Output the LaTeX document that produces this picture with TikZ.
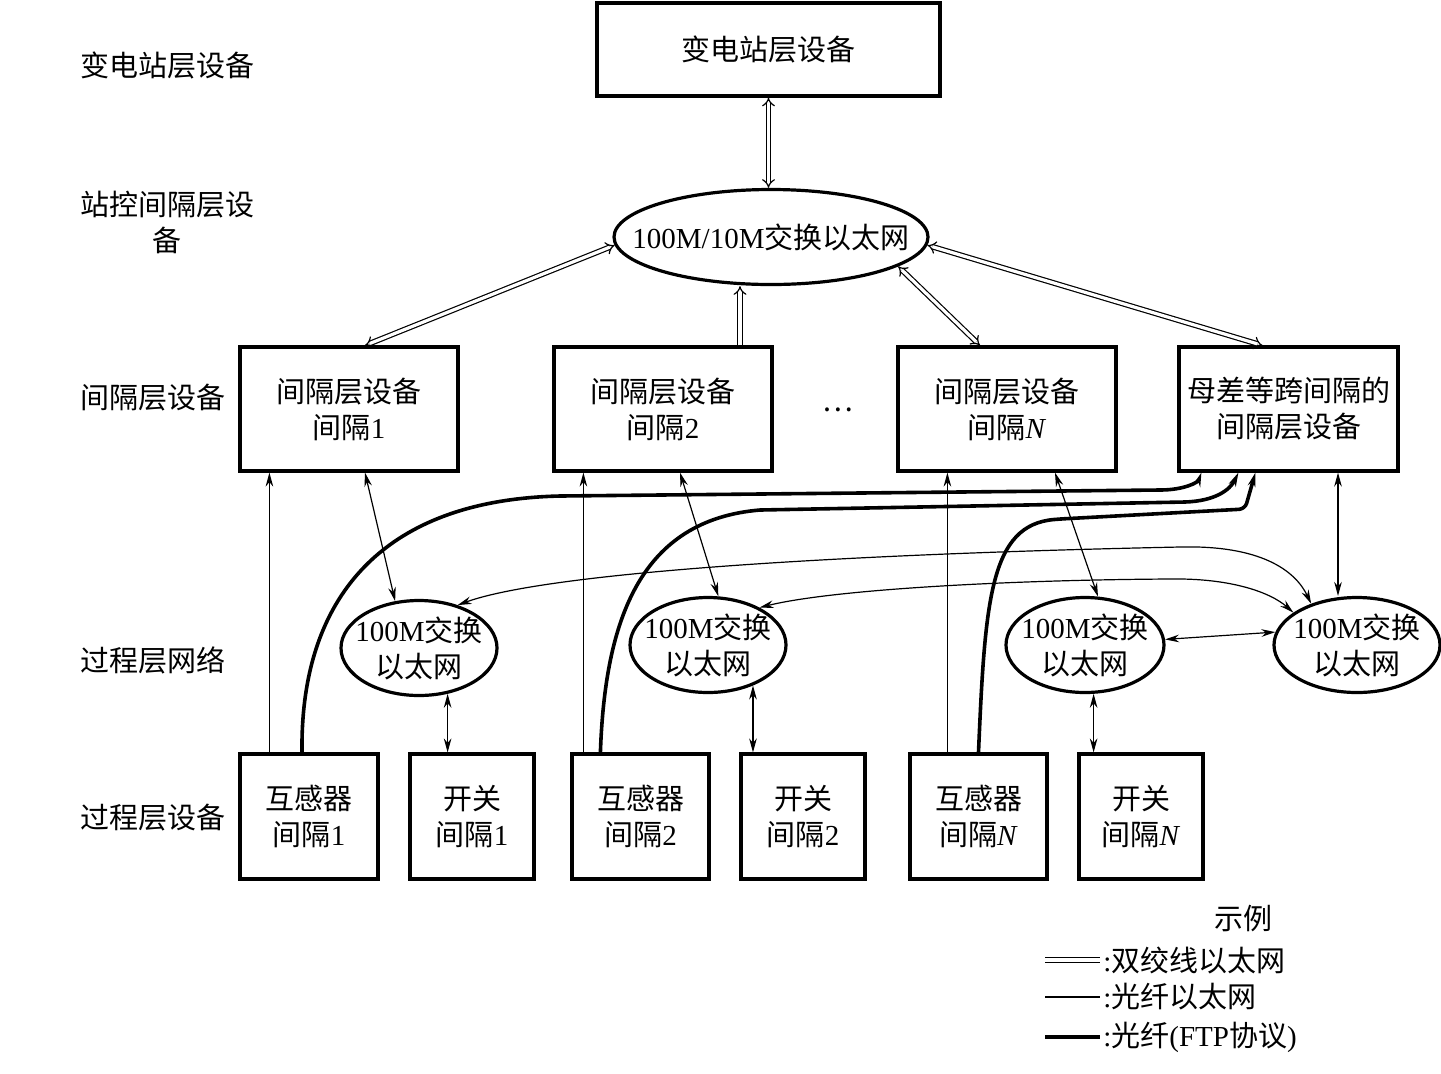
\documentclass[tikz,border=0pt]{standalone}
\usepackage{fontspec}
\setmainfont{Liberation Serif}
\newfontfamily\cjk{Noto Sans CJK SC}
\newcommand\zh[1]{{\cjk #1}}
\usetikzlibrary{shapes.geometric,arrows.meta,calc}

\tikzset{
  every node/.style={font=\fontsize{14.5pt}{18pt}\selectfont},
  box/.style={draw, line width=1.6pt, inner sep=2pt, align=center},
  swnet/.style={draw, ellipse, line width=1.6pt, minimum height=47.5pt, inner sep=0pt},
  lvl/.style={anchor=west, inner sep=0pt, align=center},
  twisted/.style={double, line width=0.6pt, double distance=1.6pt},
  fiber/.style={line width=0.6pt},
  ftp/.style={line width=1.8pt},
  >={Stealth[length=7pt,width=3.8pt]}
}

\begin{document}
\begin{tikzpicture}[x=0.5pt, y=-0.5pt]
        \useasboundingbox (0,0) rectangle (1441,1073);

        % layer names
        \node[lvl] (lv1) at (80,65) {\zh{变电站层设备}};
        \node[lvl] (lv2) at (80,222) {\zh{站控间隔层设}\\\zh{备}};
        \node[lvl] (lv3) at (80,398) {\zh{间隔层设备}};
        \node[lvl] (lv4) at (80,660) {\zh{过程层网络}};
        \node[lvl] (lv5) at (80,818) {\zh{过程层设备}};

        \node[box, minimum width=171.5pt, minimum height=46.5pt] (top) at (768.5,49.5) {\zh{变电站层设备}};
        \node[swnet, minimum width=157pt] (net) at (771,237) {};
        \node (nett) at (net) {100M/10M\zh{交换以太网}};

        \node[box, minimum width=109pt, minimum height=62pt] (bay1) at (349,409) {\zh{间隔层设备}\\\zh{间隔}1};
        \node[box, minimum width=109pt, minimum height=62pt] (bay2) at (663,409) {\zh{间隔层设备}\\\zh{间隔}2};
        \node (dots) at (838,410) {\zh{…}};
        \node[box, minimum width=109pt, minimum height=62pt] (bayN) at (1007,409) {\zh{间隔层设备}\\\zh{间隔}\textit{N}};
        \node[box, minimum width=109.5pt, minimum height=62pt] (bus) at (1288.5,409) {\zh{母差等跨间隔的}\\\zh{间隔层设备}};

        \node[swnet, minimum width=78pt] (pnet1) at (419,648) {};
        \node[swnet, minimum width=78pt] (pnet2) at (708,645) {};
        \node[swnet, minimum width=79pt] (pnetN) at (1085,645) {};
        \node[swnet, minimum width=83pt] (pnetB) at (1357,645) {};
        \node[align=center] (pnet1t) at (pnet1) {100M\zh{交换}\\\zh{以太网}};
        \node[align=center] (pnet2t) at (pnet2) {100M\zh{交换}\\\zh{以太网}};
        \node[align=center] (pnetNt) at (pnetN) {100M\zh{交换}\\\zh{以太网}};
        \node[align=center] (pnetBt) at (pnetB) {100M\zh{交换}\\\zh{以太网}};

        \node[box, minimum width=69pt, minimum height=62.5pt] (ct1) at (309,816.5) {\zh{互感器}\\\zh{间隔}1};
        \node[box, minimum width=62pt, minimum height=62.5pt] (sw1) at (472,816.5) {\zh{开关}\\\zh{间隔}1};
        \node[box, minimum width=68.5pt, minimum height=62.5pt] (ct2) at (640.5,816.5) {\zh{互感器}\\\zh{间隔}2};
        \node[box, minimum width=62pt, minimum height=62.5pt] (sw2) at (803,816.5) {\zh{开关}\\\zh{间隔}2};
        \node[box, minimum width=68.5pt, minimum height=62.5pt] (ctN) at (978.5,816.5) {\zh{互感器}\\\zh{间隔}\textit{N}};
        \node[box, minimum width=62pt, minimum height=62.5pt] (swN) at (1141,816.5) {\zh{开关}\\\zh{间隔}\textit{N}};

        % twisted pair
        \draw[twisted, Implies-Implies] (top.south) -- (top.south |- net.north);
        \draw[twisted, Implies-Implies] ($(bay1.north)+(16,0)$) -- (net.183);
        \draw[twisted, -Implies] ($(bay2.north)+(77,0)$) coordinate (b2up) -- (b2up |- net.south);
        \draw[twisted, Implies-Implies] ($(bayN.north)+(-27,0)$) -- (net.-13);
        \draw[twisted, Implies-Implies] ($(bus.north)+(-26,0)$) -- (net.-3);

        % fibre ethernet
        \draw[fiber, ->] ($(ct1.north west)+(31,0)$) coordinate (c1up) -- (c1up |- bay1.south);
        \draw[fiber, ->] ($(ct2.north west)+(13,0)$) coordinate (c2up) -- (c2up |- bay2.south);
        \draw[fiber, ->] ($(ctN.north west)+(39,0)$) coordinate (cNup) -- (cNup |- bayN.south);
        \draw[fiber, <->] ($(bay1.south)+(16,0)$) -- (pnet1.117);
        \draw[fiber, <->] ($(bay2.south)+(17,0)$) -- (pnet2.78);
        \draw[fiber, <->] ($(bayN.south)+(48,0)$) -- (pnetN.75);
        \draw[fiber, <->] ($(bus.south)+(49.5,0)$) coordinate (bsd) -- (bsd |- pnetB.north);
        \draw[fiber, <->] (pnet1.-58) coordinate (p1d) -- (p1d |- sw1.north);
        \draw[fiber, <->] (pnet2.-42) coordinate (p2d) -- (p2d |- sw2.north);
        \draw[fiber, <->] (pnetN.-80) coordinate (pNd) -- (pNd |- swN.north);
        \draw[fiber, <->] (pnetN.4) -- (pnetB.171);
        \draw[fiber, <->] (pnet1.48) .. controls (540,575) and (800,555) .. (1180,547)
            .. controls (1260,545) and (1295,570) .. (pnetB.138);
        \draw[fiber, <->] (pnet2.36) .. controls (830,590) and (1000,580) .. (1170,579)
            .. controls (1230,578) and (1270,592) .. (pnetB.153);

        % fibre, FTP
        \draw[ftp, ->] ($(ct1.north)+(-7,0)$) .. controls (300,600) and (380,500) .. (560,496) -- (1160,490)
            .. controls (1185,490) and (1198,482) .. ($(bus.south west)+(24,0)$);
        \draw[ftp, ->] ($(ct2.north west)+(30,0)$) .. controls (605,620) and (640,520) .. (760,510) -- (1185,502)
            .. controls (1215,501) and (1230,490) .. ($(bus.south west)+(61,0)$);
        \draw[ftp, ->, rounded corners=3pt] (ctN.north) .. controls (985,600) and (990,525) .. (1060,519)
            -- (1245,509) -- ($(bus.south west)+(78,0)$);

        % legend
        \node (lgt) at (1243,918) {\zh{示例}};
        \node[anchor=west, inner sep=0pt] (lg1) at (1103,960) {:\zh{双绞线以太网}};
        \node[anchor=west, inner sep=0pt] (lg2) at (1103,997) {:\zh{光纤以太网}};
        \node[anchor=west, inner sep=0pt] (lg3) at (1103,1037) {:\zh{光纤}(FTP\zh{协议})};
        \coordinate (lg1a) at (1045,960);
        \coordinate (lg2a) at (1045,997);
        \coordinate (lg3a) at (1045,1037);
        \draw[twisted] (lg1a) -- ($(lg1.west)+(-3,0)$);
        \draw[fiber] (lg2a) -- ($(lg2.west)+(-3,0)$);
        \draw[ftp] (lg3a) -- ($(lg3.west)+(-3,0)$);
\end{tikzpicture}
\end{document}
